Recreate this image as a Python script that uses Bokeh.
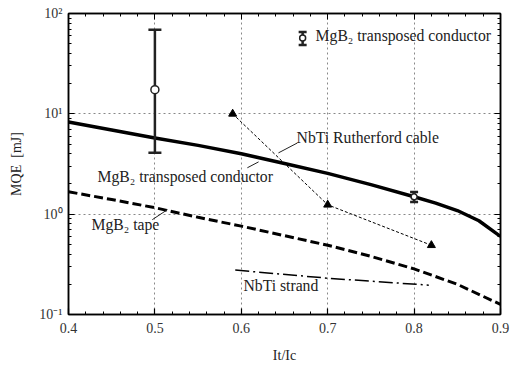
from bokeh.plotting import figure
from bokeh.models import (LinearAxis, LogAxis, SingleIntervalTicker, LogTicker, Label,
                          Range1d)
from bokeh.embed import file_html
from bokeh.resources import INLINE

# ---- data ----
cable_x = [0.40, 0.45, 0.50, 0.55, 0.60, 0.65, 0.70, 0.75, 0.80, 0.825, 0.85, 0.875, 0.90]
cable_y = [8.3, 6.9, 5.75, 4.85, 4.0, 3.2, 2.55, 1.97, 1.49, 1.29, 1.087, 0.86, 0.60]

tape_x = [0.40, 0.45, 0.50, 0.55, 0.60, 0.65, 0.70, 0.75, 0.80, 0.85, 0.90]
tape_y = [1.67, 1.40, 1.16, 0.93, 0.76, 0.61, 0.49, 0.38, 0.285, 0.20, 0.126]

rutherford_x = [0.59, 0.70, 0.82]
rutherford_y = [10.0, 1.24, 0.49]

strand_x = [0.593, 0.70, 0.817]
strand_y = [0.277, 0.23, 0.196]

tc_x = [0.5, 0.8]
tc_y = [17.4, 1.49]
tc_lo = [4.1, 1.32]
tc_hi = [69.0, 1.66]

FONT = "Liberation Serif"

p = figure(width=511, height=365, output_backend="svg", toolbar_location=None,
           y_axis_type="log", x_range=Range1d(0.4, 0.9), y_range=Range1d(0.1, 100),
           min_border_left=68, min_border_right=11, min_border_top=13, min_border_bottom=50)
p.background_fill_color = "white"
p.border_fill_color = "white"
p.outline_line_color = "black"
p.outline_line_width = 1.5

# axes
p.xaxis.ticker = SingleIntervalTicker(interval=0.1, num_minor_ticks=5)
p.xaxis.axis_label = "It/Ic"
p.yaxis.axis_label = "MQE\u00a0\u00a0[mJ]"
for ax in p.xaxis + p.yaxis:
    ax.major_tick_in = 6
    ax.major_tick_out = 0
    ax.minor_tick_in = 3
    ax.minor_tick_out = 0
    ax.axis_line_width = 1.5
    ax.major_tick_line_width = 1.2
    ax.major_label_text_font = FONT
    ax.major_label_text_font_size = "14px"
    ax.major_label_text_color = "#333333"
    ax.axis_label_text_font = FONT
    ax.axis_label_text_font_size = "14px"
    ax.axis_label_text_font_style = "normal"
    ax.axis_label_text_color = "#222222"
p.xaxis.major_label_standoff = 8
p.xaxis.axis_label_standoff = 12
p.yaxis.major_label_standoff = 6
p.yaxis.axis_label_standoff = 12
p.yaxis.major_label_overrides = {0.1: "10\u207b\u00b9", 1: "10\u2070", 10: "10\u00b9", 100: "10\u00b2"}

top = LinearAxis(ticker=SingleIntervalTicker(interval=0.1, num_minor_ticks=5),
                 major_label_text_color=None, major_label_text_font_size="1px",
                 major_label_standoff=0,
                 major_tick_in=6, major_tick_out=0,
                 minor_tick_in=3, minor_tick_out=0, axis_line_width=1.5)
p.add_layout(top, "above")
right = LogAxis(ticker=LogTicker(num_minor_ticks=10),
                major_label_text_color=None, major_label_text_font_size="1px",
                major_label_standoff=0,
                major_tick_in=6, major_tick_out=0,
                minor_tick_in=3, minor_tick_out=0, axis_line_width=1.5)
p.add_layout(right, "right")

p.xgrid.grid_line_dash = "2 3"
p.xgrid.grid_line_color = "#888888"
p.ygrid.grid_line_dash = "2 3"
p.ygrid.grid_line_color = "#888888"

# curves
p.line(cable_x, cable_y, line_width=3.5, line_color="black", line_join="round")
p.line(tape_x, tape_y, line_width=3, line_color="black", line_dash="9 4")
p.line(rutherford_x, rutherford_y, line_width=1, line_color="black", line_dash="3 2")
p.scatter(rutherford_x, rutherford_y, marker="triangle", size=8, color="black")
p.line(strand_x, strand_y, line_width=1.5, line_color="black", line_dash="14 4 2 4")

# error bars
p.segment(x0=tc_x, y0=tc_lo, x1=tc_x, y1=tc_hi, line_width=2.5, line_color="#222222")
p.scatter(tc_x, tc_hi, marker="dash", size=[13, 8], line_width=2.5, line_color="#222222")
p.scatter(tc_x, tc_lo, marker="dash", size=[13, 8], line_width=2.5, line_color="#222222")
p.scatter(tc_x, tc_y, marker="circle", size=[8, 6], fill_color="white",
          line_color="#222222", line_width=1.5)

# legend sample (top right)
lx, ly, llo, lhi = 0.671, 56.9, 48.4, 65.3
p.segment(x0=[lx], y0=[llo], x1=[lx], y1=[lhi], line_width=2.5, line_color="#222222")
p.scatter([lx, lx], [llo, lhi], marker="dash", size=8, line_width=2.5, line_color="#222222")
p.scatter([lx], [ly], marker="circle", size=6, fill_color="white", line_color="#222222", line_width=1.5)

def lab(x, y, t):
    p.add_layout(Label(x=x, y=y, text=t, text_font=FONT, text_font_size="15.7px",
                       text_baseline="middle", text_align="left", text_color="#222222"))

lab(0.686, 60.6, "MgB\u2082 transposed conductor")
lab(0.664, 5.75, "NbTi Rutherford cable")
lab(0.4336, 2.4, "MgB\u2082 transposed conductor")
lab(0.4266, 0.787, "MgB\u2082 tape")
lab(0.6025, 0.195, "NbTi strand")

# leader lines
p.segment(x0=[0.665, 0.607, 0.497], y0=[5.13, 2.9, 0.881],
          x1=[0.643, 0.62, 0.5146], y1=[4.08, 3.32, 1.11],
          line_width=1, line_color="#222222")

open("out.html", "w").write(file_html(p, INLINE))
